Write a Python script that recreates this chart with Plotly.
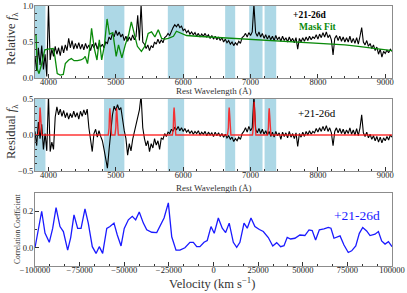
import plotly.graph_objects as go

# ---------------- data ----------------
wave = list(range(3800, 9101, 25))  # rest wavelength grid (Angstrom)

flux = [
    0.30, 0.10, 0.42, 0.18, 0.45, 0.12, 0.33, 0.02, 1.02, 0.25,   # 3800
    0.40, 0.30, 0.44, 0.33, 0.42, 0.31, 0.45, 0.35, 0.46, 0.38,   # 4050
    0.55, 0.42, 0.52, 0.40, 0.48, 0.41, 0.49, 0.40, 0.47, 0.39,   # 4300
    0.48, 0.41, 0.46, 0.38, 0.47, 0.42, 0.49, 0.40, 0.48, 0.43,   # 4550
    0.47, 0.42, 0.50, 0.48, 0.57, 0.53, 0.62, 0.57, 0.66, 0.59,   # 4800
    0.64, 0.57, 0.61, 0.52, 0.58, 0.51, 0.57, 0.52, 0.60, 0.53,   # 5050
    0.58, 0.87, 0.52, 1.02, 0.50, 0.47, 0.41, 0.46, 0.38, 0.45,   # 5300
    0.42, 0.50, 0.47, 0.54, 0.48, 0.53, 0.49, 0.56, 0.58, 0.62,   # 5550
    0.59, 0.66, 0.70, 0.74, 0.71, 0.75, 0.70, 0.72, 0.66, 0.68,   # 5800
    0.63, 0.66, 0.61, 0.64, 0.60, 0.63, 0.58, 0.62, 0.57, 0.61,   # 6050
    0.58, 0.62, 0.57, 0.60, 0.55, 0.59, 0.54, 0.58, 0.53, 0.57,   # 6300
    0.52, 0.56, 0.50, 0.54, 0.49, 0.52, 0.47, 0.50, 0.45, 0.49,   # 6550
    0.46, 0.51, 0.48, 0.56, 0.58, 0.62, 0.57, 0.63, 0.59, 0.64,   # 6800
    1.02, 0.63, 0.58, 0.64, 0.57, 0.62, 0.55, 0.60, 0.54, 0.59,   # 7050
    0.53, 0.58, 0.52, 0.59, 0.53, 0.57, 0.51, 0.58, 0.52, 0.56,   # 7300
    0.50, 0.57, 0.51, 0.55, 0.49, 0.56, 0.40, 0.55, 0.50, 0.56,   # 7550
    0.51, 0.57, 0.52, 0.58, 0.53, 0.57, 0.55, 0.60, 0.54, 0.61,   # 7800
    0.56, 0.63, 0.57, 0.64, 0.56, 0.60, 0.53, 0.32, 0.55, 0.59,   # 8050
    0.52, 0.58, 0.51, 0.57, 0.50, 0.56, 0.50, 0.58, 0.49, 0.55,   # 8300
    0.48, 0.56, 0.47, 0.58, 0.70, 0.50, 0.46, 0.52, 0.44, 0.48,   # 8550
    0.41, 0.46, 0.38, 0.43, 0.33, 0.40, 0.29, 0.37, 0.34, 0.39,   # 8800
    0.35, 0.40, 0.37,                                             # 9050
]

residual = [
    0.05, -0.15, 0.18, -0.05, 0.15, -0.20, 0.02, -0.22, 0.55, -0.23,   # 3800
    -0.10, -0.20, 0.25, 0.39, 0.28, 0.36, 0.26, 0.34, 0.24, 0.31,      # 4050
    0.22, 0.30, 0.24, 0.33, 0.25, 0.31, 0.22, 0.33, 0.26, 0.35,        # 4300
    0.28, 0.36, 0.10, -0.10, -0.23, 0.02, 0.08, -0.03, 0.06, -0.02,    # 4550
    -0.08, -0.20, -0.35, -0.46, -0.20, 0.05, 0.28, 0.40, 0.34, 0.42,   # 4800
    0.35, 0.38, 0.20, 0.06, -0.05, -0.28, -0.12, -0.22, -0.06, 0.05,   # 5050
    0.15, 0.28, 0.35, 0.55, 0.10, -0.05, -0.15, -0.08, -0.23, -0.12,   # 5300
    -0.18, -0.05, -0.14, -0.08, -0.20, -0.04, -0.06, 0.02, -0.02, 0.04, # 5550
    0.02, 0.08, 0.05, 0.11, 0.07, 0.12, 0.06, 0.10, 0.05, 0.09,        # 5800
    0.04, 0.07, 0.02, 0.06, 0.01, 0.05, 0.02, 0.06, 0.00, 0.04,        # 6050
    0.01, 0.05, -0.01, 0.04, 0.00, 0.03, -0.02, 0.04, -0.01, 0.03,     # 6300
    -0.02, 0.02, -0.03, 0.01, -0.04, -0.01, -0.06, -0.03, -0.09, -0.05, # 6550
    -0.08, -0.03, -0.06, 0.02, 0.05, 0.10, 0.04, 0.12, 0.06, 0.10,     # 6800
    0.55, 0.08, 0.03, 0.09, 0.02, 0.08, 0.01, 0.06, 0.00, 0.05,        # 7050
    -0.02, 0.04, -0.03, 0.05, -0.01, 0.03, -0.06, 0.04, -0.02, 0.03,   # 7300
    -0.04, 0.05, -0.03, 0.02, -0.05, 0.03, -0.16, 0.02, -0.03, 0.04,   # 7550
    -0.02, 0.05, 0.00, 0.06, 0.01, 0.05, 0.03, 0.09, 0.04, 0.10,       # 7800
    0.05, 0.12, 0.06, 0.13, 0.05, 0.10, 0.03, -0.15, 0.05, 0.10,       # 8050
    0.03, 0.09, 0.02, 0.08, 0.01, 0.07, 0.02, 0.10, 0.01, 0.07,        # 8300
    0.00, 0.09, -0.01, 0.10, 0.28, 0.03, -0.02, 0.04, -0.04, 0.01,     # 8550
    -0.06, -0.01, -0.08, -0.02, -0.10, -0.03, -0.11, -0.04, -0.08, -0.02, # 8800
    -0.07, 0.00, -0.03,                                                # 9050
]

mask_wave = [3800, 3815, 3835, 3860, 3895, 3945, 3995, 4070, 4095, 4130,
             4175, 4220, 4250, 4270, 4300, 4340, 4380, 4430, 4480, 4520,
             4545, 4580, 4610, 4640, 4680, 4720, 4755, 4790, 4830, 4870,
             4905, 4955, 5005, 5040, 5090, 5140, 5190, 5230, 5270, 5320,
             5380, 5430, 5480, 5530, 5580, 5630, 5680, 5730, 5780, 5855,
             5900, 5950, 6000, 6050, 6200, 6400, 6600, 6800, 7000, 7200,
             7400, 7600, 7800, 8000, 8200, 8400, 8600, 8800, 9000, 9100]
mask_flux = [0.60, 0.60, 0.12, 0.06, 0.18, 0.39, 0.40, 0.41, 0.30, 0.06,
             0.04, 0.05, 0.20, 0.22, 0.25, 0.27, 0.24, 0.24, 0.25, 0.27,
             0.30, 0.20, 0.40, 0.69, 0.41, 0.25, 0.53, 0.25, 0.45, 0.82,
             0.61, 0.63, 0.30, 0.46, 0.28, 0.46, 0.60, 0.78, 0.62, 0.44,
             0.37, 0.44, 0.62, 0.64, 0.57, 0.67, 0.55, 0.54, 0.55, 0.58,
             0.65, 0.63, 0.61, 0.59, 0.58, 0.57, 0.56, 0.55, 0.54, 0.53,
             0.52, 0.51, 0.50, 0.49, 0.475, 0.46, 0.44, 0.42, 0.39, 0.38]

line_wave = [3800,
             3850, 3863, 3869, 3875, 3881, 3887, 3900,
             4887, 4900, 4906, 4912, 4918, 4924, 4937,
             4987, 5000, 5006, 5012, 5018, 5024, 5037,
             5840, 5853, 5859, 5865, 5871, 5877, 5890,
             6658, 6671, 6677, 6683, 6689, 6695, 6708,
             7029, 7042, 7048, 7054, 7060, 7066, 7079,
             7252, 7265, 7271, 7277, 7283, 7289, 7302,
             9100]
line_resid = [0,
              0, 0.10, 0.30, 0.38, 0.30, 0.10, 0,
              0, 0.10, 0.29, 0.37, 0.29, 0.10, 0,
              0, 0.10, 0.29, 0.37, 0.29, 0.10, 0,
              0, 0.10, 0.30, 0.38, 0.30, 0.10, 0,
              0, 0.10, 0.30, 0.38, 0.30, 0.10, 0,
              0, 0.12, 0.36, 0.46, 0.36, 0.12, 0,
              0, 0.10, 0.29, 0.37, 0.29, 0.10, 0,
              0]

mask_bands = [(3800, 3955), (4825, 5127), (5772, 6014), (6623, 6772), (6980, 7178), (7208, 7381)]

velocity = [-100000, -96250, -94400, -92000, -90100, -88200, -86000, -84100, -81700, -80000,
            -78150, -76100, -74200, -72000, -70150, -67900, -65800, -64000, -62100, -59800,
            -58000, -55750, -53900, -51800, -50000, -47700, -45500, -43600, -41600, -39300,
            -37400, -34600, -31800, -30000, -27700, -25300, -23400, -21000, -18800, -16000,
            -13200, -11300, -9400, -7600, -5300, -3500, -1400, 400, 2700, 4900,
            6800, 8800, 11100, 13000, 14800, 17100, 18900, 21000, 23200, 25700,
            27900, 30700, 33200, 35400, 37600, 39500, 41300, 43200, 45600, 48400,
            51200, 53500, 55300, 57200, 59300, 61900, 64300, 65800, 67500, 70900,
            73100, 75500, 77400, 79700, 81700, 83600, 85800, 87700, 90500, 92400,
            94200, 96100, 98000, 100000]
corr = [0.00, 0.20, 0.08, 0.03, 0.106, 0.22, 0.116, 0.089, -0.013, 0.056,
        0.18, 0.106, 0.106, 0.213, 0.135, 0.006, -0.031, 0.006, -0.031, 0.106,
        0.116, 0.135, 0.07, 0.01, 0.106, 0.153, 0.172, 0.153, 0.196, 0.135,
        0.098, 0.085, 0.083, 0.116, 0.163, 0.246, 0.06, -0.013, -0.013, 0.0,
        0.03, 0.03, 0.006, 0.006, 0.03, 0.04, 0.116, 0.079, 0.163, 0.107,
        0.083, 0.135, 0.03, 0.002, 0.03, 0.135, 0.107, 0.163, 0.116, 0.10,
        0.089, 0.056, 0.01, 0.028, 0.006, 0.011, 0.057, 0.048, 0.052, 0.07,
        0.067, 0.098, 0.094, 0.042, 0.098, 0.103, 0.111, 0.107, 0.052, 0.065,
        0.015, -0.026, -0.017, 0.01, 0.079, 0.111, 0.092, 0.067, 0.074, 0.089,
        0.037, 0.02, 0.033, 0.006]

wave_ticks = [4000, 5000, 6000, 7000, 8000, 9000]
vel_ticks = [-100000, -75000, -50000, -25000, 0, 25000, 50000, 75000, 100000]
epoch_label = "+21-26d"

n = min(len(wave), len(flux), len(residual))
wave = wave[:n]
flux = flux[:n]
residual = residual[:n]

# ---------------- figure ----------------
W, H = 407, 293
ML, MR, MT, MB = 35, 15, 6, 27
PW, PH = W - ML - MR, H - MT - MB


def px_x(px):
    return (px - ML) / PW


def px_y(py):
    return (H - MB - py) / PH


SERIF = "Liberation Serif, Times New Roman, serif"
FRAME = "#8c8c8c"

fig = go.Figure()
fig.add_trace(go.Scatter(x=wave, y=flux, mode="lines", line=dict(color="black", width=1.1),
                         xaxis="x", yaxis="y", showlegend=False))
fig.add_trace(go.Scatter(x=mask_wave, y=mask_flux, mode="lines", line=dict(color="#0a8a0a", width=1.3),
                         xaxis="x", yaxis="y", showlegend=False))
fig.add_trace(go.Scatter(x=wave, y=residual, mode="lines", line=dict(color="black", width=1.1),
                         xaxis="x2", yaxis="y2", showlegend=False))
fig.add_trace(go.Scatter(x=line_wave, y=line_resid, mode="lines", line=dict(color="rgba(255,20,20,0.85)", width=1.4),
                         xaxis="x2", yaxis="y2", showlegend=False))
fig.add_trace(go.Scatter(x=velocity, y=corr, mode="lines", line=dict(color="#1a1aff", width=1.3),
                         xaxis="x3", yaxis="y3", showlegend=False))

shapes = []
for xr, yr in (("x", "y domain"), ("x2", "y2 domain")):
    for a, b in mask_bands:
        shapes.append(dict(type="rect", xref=xr, yref=yr, x0=a, x1=b, y0=0, y1=1,
                           fillcolor="#add8e6", line=dict(width=0), layer="below"))

tickfont = dict(family=SERIF, size=8.5, color="#222")
common = dict(showline=True, linecolor=FRAME, linewidth=1, mirror=True, ticks="inside",
              ticklen=4, tickwidth=0.8, tickcolor="#333", showgrid=False, zeroline=False,
              tickfont=tickfont, automargin=False)
xcommon = dict(ticklabelstandoff=-4, **common)
ycommon = dict(ticklabelstandoff=-1, **common)

wave_axis = dict(range=[3800, 9100], tickmode="array", tickvals=wave_ticks,
                 ticktext=[str(v) for v in wave_ticks],
                 minor=dict(ticks="inside", ticklen=2, tickcolor="#333", tickmode="linear", tick0=4000, dtick=200),
                 **xcommon)

d1 = [px_y(78), px_y(6)]
d2 = [px_y(171), px_y(99)]
d3 = [0, px_y(193)]

fig.update_layout(
    template="none",
    width=W, height=H, margin=dict(l=ML, r=MR, t=MT, b=MB, autoexpand=False),
    paper_bgcolor="white", plot_bgcolor="white",
    xaxis=dict(domain=[0, 1], anchor="y", **wave_axis),
    yaxis=dict(domain=d1, anchor="x", range=[0, 1.0], tickmode="array", tickvals=[0, 0.5, 1.0],
               ticktext=["0.0", "0.5", "1.0"],
               minor=dict(ticks="inside", ticklen=2, tickcolor="#333", tickmode="linear", tick0=0, dtick=0.1),
               **ycommon),
    xaxis2=dict(domain=[0, 1], anchor="y2", **wave_axis),
    yaxis2=dict(domain=d2, anchor="x2", range=[-0.5, 0.5], tickmode="array", tickvals=[-0.5, 0, 0.5],
                ticktext=["\u22120.5", "0.0", "0.5"],
                minor=dict(ticks="inside", ticklen=2, tickcolor="#333", tickmode="linear", tick0=0, dtick=0.1),
                **ycommon),
    xaxis3=dict(domain=[0, 1], anchor="y3", range=[-100000, 100000], tickmode="array", tickvals=vel_ticks,
                ticktext=[("\u2212" + str(-v)) if v < 0 else str(v) for v in vel_ticks],
                minor=dict(ticks="inside", ticklen=2, tickcolor="#333", tickmode="linear", tick0=0, dtick=25000 / 3),
                **xcommon),
    yaxis3=dict(domain=d3, anchor="x3", range=[-0.1, 0.3], tickmode="array", tickvals=[0, 0.2],
                ticktext=["0.0", "0.2"],
                minor=dict(ticks="inside", ticklen=2, tickcolor="#333", tickmode="linear", tick0=0, dtick=0.1),
                **ycommon),
    shapes=shapes,
)


def label(text, px, py, size, color="#333", angle=0):
    return dict(text=text, x=px_x(px), y=px_y(py), xref="paper", yref="paper",
                xanchor="center", yanchor="middle", textangle=angle, showarrow=False,
                font=dict(family=SERIF, size=size, color=color))


ann = [
    label("Rest Wavelength (\u00c5)", 213.5, 91, 9),
    label("Rest Wavelength (\u00c5)", 213.5, 188, 9),
    label("Velocity (km s<sup>\u22121</sup>)", 212, 282.5, 12.5),
    label("Relative <i>f</i><sub>\u03bb</sub>", 12, 39, 12.5, angle=-90),
    label("Residual <i>f</i><sub>\u03bb</sub>", 12, 132, 12.5, angle=-90),
    label("Correlation Coefficient", 17, 229, 7.5, angle=-90),
    label("<b>" + epoch_label + "</b>", 310, 15, 9.5, color="black"),
    label("<b>Mask Fit</b>", 318, 26.5, 9.5, color="#0a8a0a"),
    label(epoch_label, 317, 112.5, 11, color="black"),
    label(epoch_label, 356.5, 215.5, 13.5, color="#1a1aff"),
]
fig.update_layout(annotations=ann)

fig.write_html("out.html", config={"displayModeBar": False},
               post_script="document.body.style.margin='0';document.body.style.padding='0';")
